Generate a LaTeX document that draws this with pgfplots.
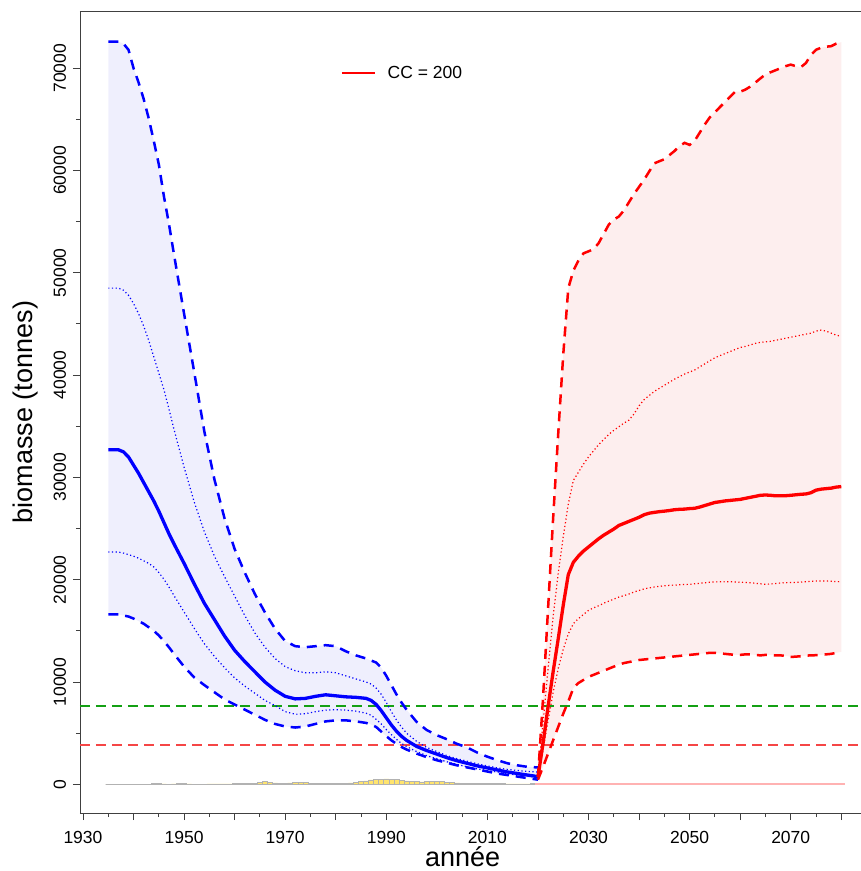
\documentclass[border=0pt]{standalone}
\usepackage{pgfplots}
\pgfplotsset{compat=1.18}
\usepackage{pgfplotstable}
\usepgfplotslibrary{fillbetween}
\usepackage{fontspec}
\setmainfont{Liberation Sans}

\definecolor{bfill}{RGB}{239,239,253}
\definecolor{rfill}{RGB}{253,238,238}
\definecolor{refgreen}{RGB}{20,160,20}
\definecolor{refred}{RGB}{245,70,70}
\definecolor{catchy}{RGB}{255,228,110}

% biomasse historique : ld/ud = tirets, lt/ut = pointilles, md = mediane
\pgfplotstableread{
yr    ld     lt     md     ut     ud
1935  16600  22700  32700  48500  72600
1936  16600  22700  32700  48500  72600
1937  16600  22700  32700  48500  72600
1938  16500  22600  32500  48300  72400
1939  16400  22450  32000  47800  71800
1940  16200  22300  31200  47000  70000
1941  15950  22100  30400  46000  68600
1942  15700  21850  29500  44800  67000
1943  15350  21600  28600  43400  65100
1944  15000  21250  27700  41800  62900
1945  14550  20700  26700  40200  60600
1946  14000  20050  25600  38600  57500
1947  13400  19300  24500  36700  54800
1948  12750  18450  23500  34700  51800
1950  11500  16850  21600  31000  46000
1952  10450  15250  19600  27600  40300
1954   9700  13750  17700  24700  34500
1956   9000  12500  16100  22300  29800
1958   8300  11400  14500  20300  26000
1960   7800  10400  13100  18400  23000
1962   7300   9600  12000  16500  20700
1964   6800   8900  11000  14800  18600
1966   6300   8200  10000  13400  16800
1968   5900   7700   9200  12300  15200
1970   5650   7100   8600  11500  14000
1972   5550   6850   8350  11100  13500
1974   5650   6900   8400  10900  13400
1976   5900   7100   8600  10900  13500
1978   6150   7250   8750  11000  13600
1980   6250   7300   8650  10900  13500
1982   6250   7250   8550  10600  13000
1984   6150   7150   8500  10300  12600
1986   6000   6950   8400  10000  12300
1987   5850   6750   8200   9800  12100
1988   5600   6350   7800   9400  11900
1989   5150   5900   7200   8800  11400
1990   4700   5350   6500   8000  10600
1991   4300   4850   5800   7100   9700
1992   3950   4400   5200   6300   8800
1993   3650   4000   4700   5600   8000
1994   3400   3700   4300   5000   7300
1996   3000   3200   3700   4200   6100
1998   2650   2800   3300   3600   5300
2000   2350   2500   2950   3200   4800
2002   2100   2200   2600   2800   4400
2004   1850   1950   2300   2500   3950
2006   1650   1700   2050   2250   3600
2008   1450   1500   1800   2000   3100
2010   1250   1350   1600   1800   2700
2012   1050   1200   1400   1600   2350
2014    900   1050   1200   1450   2050
2016    750    900   1050   1350   1850
2018    600    800    900   1250   1700
2020    450    650    750   1200   1650
}\histo

% projection CC = 200
\pgfplotstableread{
yr    ld     lt     md     ut     ud
2020    450    650    700    700    650
2021   1700   3400   4000   6000   8400
2022   3000   6200   7600  11300  17200
2023   4300   9000  11000  16400  26000
2024   5600  11300  14200  20600  34200
2025   6900  13200  17500  24200  42000
2026   8100  14700  20500  27400  48500
2027   9400  15700  21700  29700  50200
2028   9900  16200  22300  30500  51200
2029  10200  16600  22800  31300  51900
2030  10500  17000  23200  32000  52100
2031  10700  17250  23600  32600  52300
2032  10900  17450  24000  33200  52900
2033  11100  17700  24350  33700  53800
2034  11300  17900  24650  34200  54700
2035  11500  18100  24950  34600  55200
2036  11700  18300  25300  34950  55500
2037  11850  18450  25500  35300  56100
2038  11950  18600  25700  35600  56900
2039  12050  18800  25900  36200  57700
2040  12150  18950  26100  37000  58400
2041  12200  19100  26350  37600  59100
2042  12250  19200  26500  38000  59900
2043  12300  19280  26580  38400  60700
2044  12350  19350  26650  38700  60900
2045  12400  19400  26700  39000  61100
2046  12450  19450  26760  39300  61500
2047  12500  19480  26840  39600  61900
2048  12550  19500  26880  39850  62400
2049  12600  19530  26900  40100  62700
2050  12650  19550  26950  40300  62500
2051  12700  19600  26980  40500  62900
2052  12750  19650  27100  40800  63700
2053  12800  19700  27250  41100  64500
2054  12850  19750  27400  41400  65200
2055  12850  19780  27550  41700  65700
2056  12800  19800  27620  41900  66200
2057  12750  19800  27700  42100  66700
2058  12700  19800  27750  42300  67200
2059  12650  19780  27800  42500  67700
2060  12650  19750  27850  42700  67700
2061  12700  19730  27950  42800  67900
2062  12700  19700  28050  42950  68200
2063  12650  19650  28150  43100  68600
2064  12600  19600  28250  43200  69000
2065  12650  19550  28280  43250  69400
2066  12650  19580  28250  43300  69600
2067  12600  19620  28200  43400  69800
2068  12600  19680  28200  43500  70000
2069  12550  19710  28210  43600  70200
2070  12450  19720  28250  43700  70350
2071  12480  19740  28300  43800  70200
2072  12520  19760  28350  43900  70100
2073  12580  19800  28380  44000  70500
2074  12600  19850  28500  44100  71300
2075  12620  19870  28750  44300  71800
2076  12650  19880  28850  44400  72000
2077  12700  19870  28900  44300  72100
2078  12750  19850  28950  44100  72150
2079  12850  19820  29050  43900  72400
2080  12950  19800  29100  43800  72550
}\proj

% captures
\pgfplotstableread{
yr    c
1935  0
1936  0
1937  0
1938  0
1939  0
1940  0
1941  0
1942  0
1943  10
1944  60
1945  60
1946  30
1947  20
1948  30
1949  60
1950  60
1951  40
1952  20
1953  20
1954  20
1955  30
1956  30
1957  30
1958  40
1959  40
1960  50
1961  60
1962  70
1963  80
1964  70
1965  160
1966  300
1967  200
1968  130
1969  120
1970  110
1971  130
1972  150
1973  170
1974  160
1975  120
1976  100
1977  90
1978  100
1979  110
1980  90
1981  80
1982  90
1983  130
1984  220
1985  290
1986  340
1987  430
1988  480
1989  510
1990  520
1991  500
1992  460
1993  400
1994  340
1995  290
1996  250
1997  230
1998  250
1999  260
2000  280
2001  260
2002  220
2003  180
2004  130
2005  110
2006  100
2007  90
2008  90
2009  80
2010  70
2011  60
2012  50
2013  50
2014  40
2015  40
2016  40
2017  40
2018  40
2019  60
}\captures

\pgfplotstableread{
yr    c
2020  120
2021  120
2022  120
2023  120
2024  120
2025  120
2026  120
2027  120
2028  120
2029  120
2030  120
2031  120
2032  120
2033  120
2034  120
2035  120
2036  120
2037  120
2038  120
2039  120
2040  120
2041  120
2042  120
2043  120
2044  120
2045  120
2046  120
2047  120
2048  120
2049  120
2050  120
2051  120
2052  120
2053  120
2054  120
2055  120
2056  120
2057  120
2058  120
2059  120
2060  120
2061  120
2062  120
2063  120
2064  120
2065  120
2066  120
2067  120
2068  120
2069  120
2070  120
2071  120
2072  120
2073  120
2074  120
2075  120
2076  120
2077  120
2078  120
2079  120
2080  120
}\capfut

\begin{document}
\begin{tikzpicture}
\begin{axis}[
    name=ax,
    scale only axis,
    width=781pt, height=802pt,
    xmin=1929.41, xmax=2083.9,
    ymin=-2805, ymax=75590,
    axis x line*=box, axis y line*=left,
    xtick pos=bottom, ytick pos=left,
    xticklabel pos=bottom, yticklabel pos=left,
    tick align=outside,
    axis line style={black!75, line width=0.9pt},
    every tick/.style={black!75, line width=0.9pt},
    major tick length=7pt, minor tick length=4pt,
    xtick={1930,1940,...,2080},
    xticklabels={1930,,1950,,1970,,1990,,2010,,2030,,2050,,2070,},
    minor xtick={1935,1945,...,2075},
    ytick={0,10000,...,70000},
    yticklabels={0,10000,20000,30000,40000,50000,60000,70000},
    minor ytick={5000,15000,...,65000},
    scaled ticks=false,
    tick label style={font=\fontsize{17.5}{20}\selectfont},
    xticklabel style={anchor=base, inner sep=0pt},
    yticklabel style={rotate=90, anchor=base, inner sep=0pt},
    xticklabel shift=23pt,
    yticklabel shift=7pt,
    xlabel={année},
    ylabel={biomasse (tonnes)},
    label style={font=\fontsize{27}{32}\selectfont, inner sep=0pt},
    xlabel style={at={(rel axis cs:0.49,0)}, anchor=base, yshift=-53.5pt},
    ylabel style={at={(rel axis cs:-0.0602,0.5)}, anchor=base},
    legend image code/.code={\draw[#1] (0pt,0pt) -- (33pt,0pt); \path (0pt,-2pt) (43pt,2pt);},
    legend style={at={(rel axis cs:0.334,0.9227)}, anchor=west, draw=none, fill=none,
        inner sep=0pt, font=\fontsize{17.5}{20}\selectfont},
]
\addlegendimage{draw=red, line width=1.6pt}
\addlegendentry{CC = 200}

% enveloppes (remplissage)
\addplot[draw=none, name path=bU, forget plot] table[x=yr, y=ud]{\histo};
\addplot[draw=none, name path=bL, forget plot] table[x=yr, y=ld]{\histo};
\addplot[fill=bfill, draw=none, forget plot] fill between[of=bU and bL];
\addplot[draw=none, name path=rU, forget plot] table[x=yr, y=ud]{\proj};
\addplot[draw=none, name path=rL, forget plot] table[x=yr, y=ld]{\proj};
\addplot[fill=rfill, draw=none, forget plot] fill between[of=rU and rL];

% seuils
\addplot[draw=refgreen, line width=1.6pt, dash pattern=on 10pt off 6pt, forget plot] coordinates {(1929.41,7660) (2083.9,7660)};
\addplot[draw=refred, line width=1.6pt, dash pattern=on 10pt off 6pt, forget plot] coordinates {(1929.41,3830) (2083.9,3830)};

% captures
\addplot[ybar, bar width=5.05pt, bar shift=0pt, fill=catchy, draw=gray!60, line width=0.6pt, forget plot] table[x=yr, y=c]{\captures};
\addplot[ybar, bar width=5.05pt, bar shift=0pt, fill=rfill, draw=red!30, line width=0.6pt, forget plot] table[x=yr, y=c]{\capfut};

% tirets
\addplot[draw=blue, line width=2.5pt, dash pattern=on 10pt off 7pt, forget plot] table[x=yr, y=ud]{\histo};
\addplot[draw=blue, line width=2.5pt, dash pattern=on 10pt off 7pt, forget plot] table[x=yr, y=ld]{\histo};
\addplot[draw=red, line width=2.5pt, dash pattern=on 10pt off 7pt, forget plot] table[x=yr, y=ud]{\proj};
\addplot[draw=red, line width=2.5pt, dash pattern=on 10pt off 7pt, forget plot] table[x=yr, y=ld]{\proj};

% quantiles et mediane
\addplot[draw=blue, line width=1.2pt, dash pattern=on 1.2pt off 2.5pt, forget plot] table[x=yr, y=ut]{\histo};
\addplot[draw=blue, line width=1.2pt, dash pattern=on 1.2pt off 2.5pt, forget plot] table[x=yr, y=lt]{\histo};
\addplot[draw=blue, line width=3.3pt, forget plot] table[x=yr, y=md]{\histo};
\addplot[draw=red, line width=1.2pt, dash pattern=on 1.2pt off 2.5pt, forget plot] table[x=yr, y=ut]{\proj};
\addplot[draw=red, line width=1.2pt, dash pattern=on 1.2pt off 2.5pt, forget plot] table[x=yr, y=lt]{\proj};
\addplot[draw=red, line width=3.3pt, forget plot] table[x=yr, y=md]{\proj};
\end{axis}
\pgfresetboundingbox
\path ([xshift=-80pt,yshift=-58pt]ax.south west) rectangle ([yshift=11pt]ax.north east);
\end{tikzpicture}
\end{document}
